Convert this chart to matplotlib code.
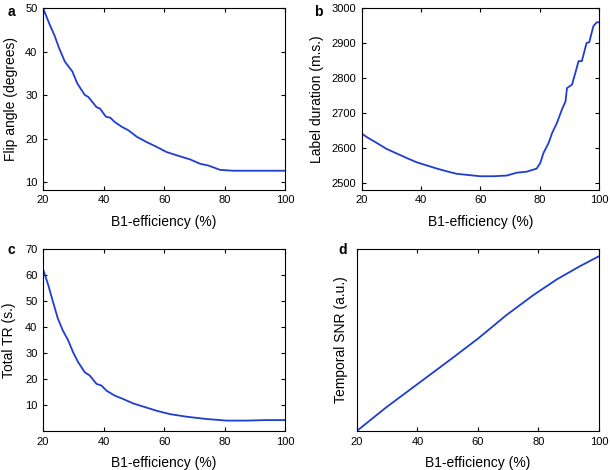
import numpy as np
import matplotlib.pyplot as plt

plt.rcParams['font.family'] = ['Liberation Sans', 'DejaVu Sans']

# panel a: flip angle vs B1-efficiency
a_x = [20, 22.2, 23.9, 25.3, 27.2, 29.7, 31.3, 33.8, 34.9, 37.7, 38.8, 40.8, 42.2, 43.7,
       46, 48.2, 51, 54.2, 57.5, 60.8, 65.3, 68.6, 71.9, 74.6, 78.5, 82.9, 100]
a_y = [50, 46.2, 43.5, 40.8, 37.7, 35.4, 32.7, 30, 29.6, 27.2, 26.9, 25, 24.8, 23.8,
       22.7, 21.9, 20.4, 19.2, 18.1, 16.9, 15.9, 15.2, 14.2, 13.8, 12.8, 12.6, 12.6]

# panel b: label duration vs B1-efficiency
b_x = [20, 21.7, 25.1, 28.4, 31.8, 35.2, 38.5, 41.9, 45.3, 48.7, 52, 55.4, 59.9, 64.4,
       68.9, 72.2, 75.6, 77.9, 79, 80.2, 81.3, 83, 84.2, 85.8, 87.5, 88.7, 89.2, 90.9,
       92, 93.1, 94.2, 95.8, 96.7, 98.1, 99.2, 100]
b_y = [2641, 2631, 2614, 2597, 2584, 2571, 2559, 2550, 2541, 2533, 2526, 2523, 2519, 2519,
       2521, 2529, 2532, 2538, 2541, 2557, 2586, 2614, 2643, 2671, 2710, 2733, 2771, 2781,
       2814, 2848, 2848, 2900, 2902, 2948, 2959, 2959]

# panel c: total TR vs B1-efficiency
c_x = [20, 21.7, 23.3, 24.9, 26.5, 28.3, 29.9, 31.6, 33.8, 35.4, 37.7, 39.3, 41, 43.7,
       46.5, 49.8, 53.1, 57.5, 61.9, 67.4, 74.1, 80.7, 87.3, 93.9, 100]
c_y = [62.3, 56.3, 49.7, 43.3, 38.8, 34.9, 30.4, 26.5, 22.6, 21.4, 18.1, 17.5, 15.5, 13.6,
       12.3, 10.6, 9.4, 7.8, 6.5, 5.5, 4.6, 4.0, 4.0, 4.2, 4.2]

# panel d: temporal SNR (a.u.) vs B1-efficiency
d_x = [20, 29.7, 40.2, 50.7, 60.1, 69.4, 78.3, 86, 93.7, 100]
d_y = [0.0, 0.13, 0.26, 0.39, 0.509, 0.637, 0.747, 0.833, 0.906, 0.961]

x_ticks = [20, 40, 60, 80, 100]
line_color = '#1f3dd0'

fig = plt.figure(figsize=(6.1, 4.7), dpi=100)
ax_a = fig.add_axes([0.0705, 0.596, 0.397, 0.387])
ax_b = fig.add_axes([0.593, 0.596, 0.389, 0.387])
ax_c = fig.add_axes([0.0705, 0.083, 0.397, 0.387])
ax_d = fig.add_axes([0.585, 0.083, 0.397, 0.387])

panels = [
    (ax_a, a_x, a_y, 'Flip angle (degrees)', (8.2, 50), [10, 20, 30, 40, 50], -0.105),
    (ax_b, b_x, b_y, 'Label duration (m.s.)', (2480, 3000), [2500, 2600, 2700, 2800, 2900, 3000], -0.16),
    (ax_c, c_x, c_y, 'Total TR (s.)', (0, 70), [10, 20, 30, 40, 50, 60, 70], -0.11),
    (ax_d, d_x, d_y, 'Temporal SNR (a.u.)', (0, 1), [], -0.035),
]

for ax, xs, ys, ylab, ylim, yt, lx in panels:
    ax.plot(xs, ys, color=line_color, lw=1.3)
    ax.set_xlim(20, 100)
    ax.set_ylim(*ylim)
    ax.set_xticks(x_ticks)
    ax.set_yticks(yt)
    ax.tick_params(direction='in', length=3, width=0.8, top=True, right=True,
                   labelsize=8, pad=4)
    ax.set_xlabel('B1-efficiency (%)', fontsize=10, labelpad=7)
    ax.set_ylabel(ylab, fontsize=10)
    ax.yaxis.set_label_coords(lx, 0.5)
    for s in ax.spines.values():
        s.set_linewidth(0.8)

fig.text(0.012, 0.975, 'a', fontsize=10, fontweight='bold', va='center')
fig.text(0.515, 0.975, 'b', fontsize=10, fontweight='bold', va='center')
fig.text(0.012, 0.468, 'c', fontsize=10, fontweight='bold', va='center')
fig.text(0.555, 0.468, 'd', fontsize=10, fontweight='bold', va='center')

plt.savefig('out.png', dpi=100)
